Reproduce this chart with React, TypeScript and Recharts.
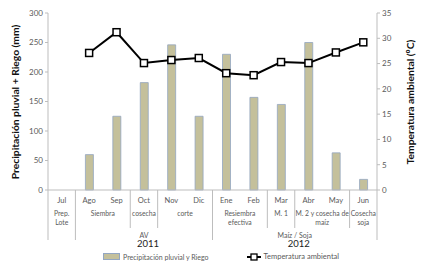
import React from 'react';
import { ComposedChart, Bar, Line, XAxis, YAxis } from 'recharts';

const months = ['Jul', 'Ago', 'Sep', 'Oct', 'Nov', 'Dic', 'Ene', 'Feb', 'Mar', 'Abr', 'May', 'Jun'];
const precipitation = [0, 60, 125, 182, 246, 125, 230, 157, 145, 250, 63, 18];
const temperature = [null, 27.1, 31.2, 25.1, 25.7, 26.1, 23.1, 22.7, 25.3, 25.1, 27.2, 29.2];
const leftTicks = [0, 50, 100, 150, 200, 250, 300];
const rightTicks = [0, 5, 10, 15, 20, 25, 30, 35];

// stage labels under the months: first month index, number of months, text lines
const stages = [
    { start: 0, span: 1, lines: ['Prep.', 'Lote'] },
    { start: 1, span: 2, lines: ['Siembra'] },
    { start: 3, span: 1, lines: ['cosecha'] },
    { start: 4, span: 2, lines: ['corte'] },
    { start: 6, span: 2, lines: ['Resiembra', 'efectiva'] },
    { start: 8, span: 1, lines: ['M. 1'] },
    { start: 9, span: 2, lines: ['M. 2 y cosecha de', 'maíz'] },
    { start: 11, span: 1, lines: ['Cosecha', 'soja'] },
];

const groups = [
    { start: 0, span: 1, crop: '', year: '' },
    { start: 1, span: 5, crop: 'AV', year: '2011' },
    { start: 6, span: 6, crop: 'Maíz / Soja', year: '2012' },
];

const data = months.map((m, i) => ({ name: m, precip: precipitation[i], temp: temperature[i] }));

const FONT = 'Lato, "Liberation Sans", sans-serif';
const GRAY = '#5a5a5a';
const AXIS = '#bdbdbd';

const MultiTick = (props: any) => {
    const { x, y, payload } = props;
    const idx: number = payload.index;
    const half: number = payload.offset;
    const left = x - half;
    const items: React.ReactNode[] = [];

    items.push(
        <text key="m" x={x} y={y + 13} textAnchor="middle" fontSize={7.5} fill={GRAY} fontFamily={FONT}>
            {payload.value}
        </text>
    );

    const stage = stages.find((s) => s.start === idx);
    if (stage) {
        const cx = left + stage.span * half;
        stage.lines.forEach((ln, j) => {
            items.push(
                <text key={'s' + j} x={cx} y={y + 26 + j * 9} textAnchor="middle" fontSize={6.8} fill={GRAY} fontFamily={FONT}>
                    {ln}
                </text>
            );
        });
        const isGroup = groups.some((g) => g.start === idx);
        items.push(<line key="sep" x1={left} x2={left} y1={y} y2={y + (isGroup ? 50 : 38)} stroke={AXIS} />);
    }

    const group = groups.find((g) => g.start === idx);
    if (group && group.crop) {
        const cx = left + group.span * half;
        items.push(
            <text key="gc" x={cx} y={y + 48} textAnchor="middle" fontSize={7} fill={GRAY} fontFamily={FONT}>
                {group.crop}
            </text>
        );
        items.push(
            <text key="gy" x={cx + 4} y={y + 57} textAnchor="middle" fontSize={9.5} fill="#222" fontFamily={FONT}>
                {group.year}
            </text>
        );
    }

    if (idx === months.length - 1) {
        items.push(<line key="end" x1={x + half} x2={x + half} y1={y} y2={y + 50} stroke={AXIS} />);
    }

    return <g>{items}</g>;
};

const Square = (props: any) => {
    const { cx, cy, value } = props;
    if (value == null || cx == null || cy == null) return null;
    return <rect x={cx - 3.5} y={cy - 3.5} width={7} height={7} fill="#fff" stroke="#000" strokeWidth={1.5} />;
};

const axisTitle = (text: string, dx: number) => (p: any) => {
    const vb = p.viewBox;
    const cx = vb.x + dx;
    const cy = 102;
    return (
        <text x={cx} y={cy} transform={`rotate(-90 ${cx} ${cy})`} textAnchor="middle" dominantBaseline="central"
            fontSize={10.3} fontWeight={700} fill="#111" fontFamily={FONT}>
            {text}
        </text>
    );
};

const App = () => {
    return (
        <div style={{ position: 'fixed', left: 0, top: 0, width: 428, height: 264, background: '#fff' }}>
            <ComposedChart width={428} height={264} data={data} margin={{ top: 13, right: 0, left: 0, bottom: 0 }}>
                <XAxis
                    dataKey="name"
                    xAxisId={0}
                    height={74}
                    interval={0}
                    tickLine={false}
                    tickSize={0}
                    tickMargin={0}
                    stroke={AXIS}
                    tick={<MultiTick />}
                />
                <YAxis
                    yAxisId="left"
                    width={48}
                    domain={[0, 300]}
                    ticks={leftTicks}
                    stroke={AXIS}
                    tickSize={3}
                    tick={{ fontSize: 8, fill: GRAY, fontFamily: FONT }}
                    label={{ content: axisTitle('Precipitación pluvial + Riego (mm)', 15) } as any}
                />
                <YAxis
                    yAxisId="right"
                    orientation="right"
                    width={51}
                    domain={[0, 35]}
                    ticks={rightTicks}
                    stroke={AXIS}
                    tickSize={3}
                    tick={{ fontSize: 8, fill: GRAY, fontFamily: FONT, textAnchor: 'start' }}
                    label={{ content: axisTitle('Temperatura ambiental (ºC)', 33) } as any}
                />
                <Bar yAxisId="left" dataKey="precip" barSize={8} fill="#c4c09b" stroke="#93a6c2" strokeWidth={0.8} isAnimationActive={false} />
                <Line yAxisId="right" dataKey="temp" stroke="#000" strokeWidth={2} dot={<Square />} activeDot={false} isAnimationActive={false} />
            </ComposedChart>
            <div style={{ position: 'absolute', top: 252, left: 103, display: 'flex', alignItems: 'center', fontFamily: FONT, fontSize: 7, color: GRAY, whiteSpace: 'nowrap' }}>
                <span style={{ display: 'inline-block', width: 15, height: 5, background: '#c4c09b', border: '0.5px solid #93a6c2', marginRight: 3 }} />
                <span>Precipitación pluvial y Riego</span>
                <svg width={14} height={8} style={{ marginLeft: 38, marginRight: 3 }}>
                    <line x1={0} x2={14} y1={4} y2={4} stroke="#000" strokeWidth={2} />
                    <rect x={4} y={1} width={6} height={6} fill="#fff" stroke="#000" strokeWidth={1.3} />
                </svg>
                <span style={{ fontSize: 7.5 }}>Temperatura ambiental</span>
            </div>
        </div>
    );
};

export default App;
